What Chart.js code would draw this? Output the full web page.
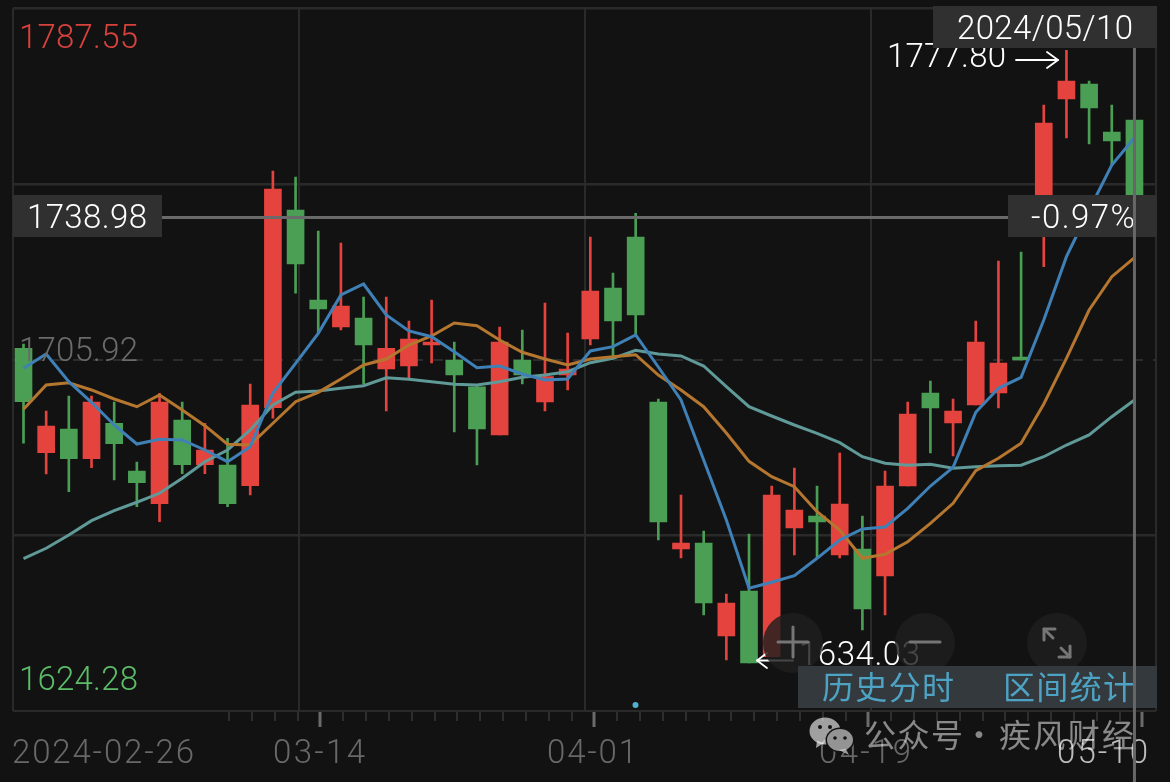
<!DOCTYPE html>
<html>
<head>
<meta charset="utf-8">
<title>K线图</title>
<script src="https://cdn.jsdelivr.net/npm/chart.js@4"></script>
<style>
html,body{margin:0;padding:0;background:#121212;overflow:hidden}
#wrap{position:relative;width:1170px;height:782px}
canvas{display:block}
</style>
</head>
<body>
<div id="wrap"><canvas id="c" width="1170" height="782"></canvas></div>
<script>
// Trading days, 2024-02-26 to 2024-05-10
const dates = ['2024-02-26','2024-02-27','2024-02-28','2024-02-29','2024-03-01','2024-03-04','2024-03-05','2024-03-06','2024-03-07','2024-03-08','2024-03-11','2024-03-12','2024-03-13','2024-03-14','2024-03-15','2024-03-18','2024-03-19','2024-03-20','2024-03-21','2024-03-22','2024-03-25','2024-03-26','2024-03-27','2024-03-28','2024-03-29','2024-04-01','2024-04-02','2024-04-03','2024-04-08','2024-04-09','2024-04-10','2024-04-11','2024-04-12','2024-04-15','2024-04-16','2024-04-17','2024-04-18','2024-04-19','2024-04-22','2024-04-23','2024-04-24','2024-04-25','2024-04-26','2024-04-29','2024-04-30','2024-05-06','2024-05-07','2024-05-08','2024-05-09','2024-05-10'];
const opens = [1708.58,1684.31,1689.82,1682.92,1691.15,1680.06,1672.46,1691.91,1681.52,1681.45,1676.64,1694.77,1740.72,1719.80,1713.53,1715.62,1703.77,1704.46,1709.34,1705.86,1699.65,1688.43,1705.86,1696.10,1702.37,1710.74,1722.59,1734.44,1696.10,1661.93,1663.33,1641.71,1652.17,1636.90,1666.81,1669.60,1660.54,1661.93,1655.66,1676.57,1698.19,1691.22,1695.40,1698.19,1706.55,1737.23,1766.52,1770.00,1758.85,1761.64];
const closes = [1696.16,1690.52,1682.92,1696.10,1686.41,1677.34,1696.10,1681.52,1684.94,1672.46,1695.40,1745.60,1728.17,1717.71,1718.41,1709.34,1708.58,1710.74,1710.04,1702.37,1689.82,1710.04,1702.37,1701.98,1703.77,1721.89,1714.92,1716.32,1668.21,1663.33,1649.38,1649.38,1635.44,1674.48,1671.00,1668.21,1672.39,1647.99,1676.57,1693.31,1694.70,1694.00,1710.04,1705.16,1705.86,1760.94,1770.70,1764.43,1756.76,1738.98];
const highs = [1709.57,1694.00,1697.49,1697.49,1696.10,1682.15,1698.12,1696.10,1691.15,1687.66,1700.28,1749.78,1748.39,1735.84,1733.05,1720.50,1720.50,1714.92,1719.80,1710.04,1700.05,1713.53,1712.83,1719.10,1712.13,1734.44,1726.08,1739.95,1696.79,1674.48,1666.12,1651.47,1665.42,1676.57,1680.76,1676.57,1684.24,1669.60,1680.06,1696.10,1700.98,1696.79,1714.92,1728.87,1730.96,1765.12,1777.80,1770.70,1765.12,1761.64];
const lows = [1686.50,1679.36,1675.25,1680.83,1677.97,1671.76,1668.28,1679.43,1679.43,1671.76,1674.48,1692.31,1721.36,1712.06,1712.83,1700.28,1694.00,1701.67,1705.16,1689.12,1681.45,1688.43,1700.28,1694.00,1698.89,1709.34,1706.62,1711.67,1664.02,1659.84,1646.59,1636.13,1635.44,1636.90,1660.54,1659.84,1659.84,1643.11,1646.59,1676.57,1684.24,1683.55,1695.40,1694.70,1705.86,1727.54,1757.45,1756.06,1751.18,1738.98];
const ma5 = [1703.93,1707.25,1700.81,1696.03,1690.75,1686.33,1687.43,1687.27,1684.94,1682.22,1685.71,1698.19,1705.09,1712.06,1720.96,1723.52,1716.32,1712.60,1711.27,1707.79,1704.07,1704.46,1702.60,1701.21,1701.44,1707.95,1708.95,1711.67,1704.23,1696.56,1682.62,1668.67,1652.80,1654.19,1655.73,1659.77,1664.02,1666.58,1667.04,1671.39,1676.57,1680.92,1693.70,1699.28,1701.84,1715.15,1729.87,1740.72,1751.18,1757.52];
const ma10 = [1694.40,1700.05,1700.58,1698.89,1696.79,1695.00,1697.72,1694.24,1690.59,1686.27,1686.10,1691.15,1696.16,1698.35,1701.44,1704.70,1706.09,1709.34,1711.44,1714.46,1713.83,1710.51,1707.65,1706.09,1704.70,1706.09,1706.62,1707.09,1702.37,1698.89,1695.00,1688.89,1682.31,1678.74,1676.41,1670.60,1666.35,1659.77,1660.70,1663.63,1667.90,1672.55,1680.13,1683.01,1686.50,1695.63,1706.25,1717.48,1725.22,1729.63];
const ma20 = [1659.68,1662.10,1665.19,1668.51,1670.83,1672.79,1674.88,1678.36,1682.22,1684.94,1689.59,1695.40,1698.35,1698.65,1699.28,1699.89,1701.74,1701.37,1700.81,1700.21,1700.05,1700.81,1701.84,1702.37,1703.14,1705.23,1706.25,1708.11,1707.25,1706.79,1704.46,1699.65,1695.00,1692.84,1690.75,1688.82,1686.64,1683.38,1681.85,1681.39,1681.62,1680.69,1681.06,1681.29,1681.39,1683.38,1686.10,1688.43,1692.68,1696.56];
const yTicks = [1787.55,1746.73,1705.92,1665.10,1624.28];
const xTickLabels = ['2024-02-26','03-14','04-01','04-19','05-10'];
const lastClose = 1738.98, changePct = '-0.97%', highLabel = '1777.80', lowLabel = '1634.03', activeDate = '2024/05/10';

const RED='#e5433d', GREEN='#4a9f55', BG='#121212', GRID='#2a2a2a';
const NUM='300 33px Roboto, sans-serif', CJK='400 32px "Noto Sans CJK SC", sans-serif';
const idx = dates.map((d,i)=>i);
const col = idx.map(i=>closes[i]>=opens[i]?RED:GREEN);
const line = (arr,color)=>({type:'line',data:arr.map((v,i)=>({x:i,y:v})),borderColor:color,borderWidth:3,pointRadius:0,tension:0,order:1,clip:false});

function fit(ctx,t,x0,x1,base,color,font){
  ctx.save();ctx.font=font;ctx.fillStyle=color;ctx.textAlign='left';ctx.textBaseline='alphabetic';
  ctx.letterSpacing='0px';
  const w=ctx.measureText(t).width;
  const extra=(x1-x0-w)/Math.max(1,t.length-1);
  ctx.letterSpacing=extra.toFixed(2)+'px';
  ctx.fillText(t,x0,base);ctx.restore();
}
function seg(ctx,pts,color,w){
  ctx.save();ctx.strokeStyle=color;ctx.lineWidth=w;ctx.lineCap='round';ctx.lineJoin='round';ctx.beginPath();
  pts.forEach((p,i)=>i?ctx.lineTo(p[0],p[1]):ctx.moveTo(p[0],p[1]));ctx.stroke();ctx.restore();
}
const overlay={id:'overlay',afterDraw(chart){
  const ctx=chart.ctx,xs=chart.scales.x,ys=chart.scales.y;
  // axis ticks
  for(let k=0;k<=40;k++){
    const px=Math.round(xs.getPixelForValue(9.07+1.0071*k));
    const major=k%12===4;
    ctx.fillStyle=major?'#6a6a6a':'#4a4a4a';
    ctx.fillRect(px-(major?1.5:0.5),712,major?3:1,major?15:9);
  }
  // scale labels
  fit(ctx,yTicks[0].toFixed(2),19,138,48,'#d8423d',NUM);
  fit(ctx,yTicks[2].toFixed(2),19,138,361,'#6a6a6a',NUM);
  fit(ctx,yTicks[4].toFixed(2),19,138,690,'#5cbc68',NUM);
  const G='#686868';
  const tl=[[12,194,G],[273,365,G],[547,637,G],[819,911,G],[1057,1148,'#bcbcbc']];
  xTickLabels.forEach((t,i)=>fit(ctx,t,tl[i][0],tl[i][1],763,tl[i][2],NUM));
  // high / low markers
  fit(ctx,highLabel,887,1006,67,'#ffffff',NUM);
  seg(ctx,[[1016,60],[1058,60]],'#ffffff',1.8);
  seg(ctx,[[1047,52],[1058,60],[1047,68]],'#ffffff',1.8);
  fit(ctx,lowLabel,799,920,665,'#ffffff',NUM);
  seg(ctx,[[767,653],[757,660.5],[767,668]],'#ffffff',1.8);
  seg(ctx,[[757,660.5],[793,660.5]],'#ffffff',1.8);
  // zoom buttons
  [793,925,1057].forEach(cx=>{ctx.fillStyle='rgba(30,30,30,0.82)';ctx.beginPath();ctx.arc(cx,643,30,0,Math.PI*2);ctx.fill();});
  seg(ctx,[[778,642],[808,642]],'#767676',3);
  seg(ctx,[[793,627],[793,657]],'#767676',3);
  seg(ctx,[[910,642],[940,642]],'#767676',3);
  seg(ctx,[[1044,629],[1053,638]],'#767676',3);
  seg(ctx,[[1044,640],[1044,629],[1055,629]],'#767676',3);
  seg(ctx,[[1061,648],[1070,657]],'#767676',3);
  seg(ctx,[[1059,657],[1070,657],[1070,646]],'#767676',3);
  // point marker
  ctx.fillStyle='#4fb0d0';ctx.beginPath();ctx.arc(635.5,705,3,0,Math.PI*2);ctx.fill();
  // bottom panel
  ctx.fillStyle='#33393c';ctx.fillRect(798,666,359,42);
  fit(ctx,'历史分时',822,954,699,'#4ea3c4',CJK);
  fit(ctx,'区间统计',1003,1135,699,'#4ea3c4',CJK);
  // crosshair
  const yy=ys.getPixelForValue(lastClose),xx=xs.getPixelForValue(49);
  ctx.fillStyle='#6a6a6a';ctx.fillRect(162,yy-1.5,846,3);
  ctx.fillStyle='#303030';
  ctx.fillRect(13,195,149,42);ctx.fillRect(1008,195,149,42);ctx.fillRect(933,6,224,42);
  fit(ctx,lastClose.toFixed(2),27,147,228,'#ffffff',NUM);
  fit(ctx,changePct,1031,1135,228,'#ffffff',NUM);
  fit(ctx,activeDate,957,1133,39,'#ffffff',NUM);
  ctx.fillStyle='#676767';ctx.fillRect(xx-1.5,48,3,734);
  // watermark
  ctx.save();
  ctx.fillStyle='rgba(255,255,255,0.6)';
  ctx.beginPath();ctx.ellipse(825,731,15.5,13.5,0,0,Math.PI*2);ctx.fill();
  ctx.beginPath();ctx.moveTo(817,741);ctx.lineTo(816,748);ctx.lineTo(824,743);ctx.fill();
  ctx.fillStyle=BG;
  ctx.beginPath();ctx.arc(820,727,2,0,Math.PI*2);ctx.arc(830,727,2,0,Math.PI*2);ctx.fill();
  ctx.beginPath();ctx.ellipse(840,740,14.5,12.5,0,0,Math.PI*2);ctx.fill();
  ctx.fillStyle='rgba(255,255,255,0.55)';
  ctx.beginPath();ctx.ellipse(840,740,13,11,0,0,Math.PI*2);ctx.fill();
  ctx.beginPath();ctx.moveTo(846,749);ctx.lineTo(849,755);ctx.lineTo(839,750);ctx.fill();
  ctx.fillStyle=BG;
  ctx.beginPath();ctx.arc(835,738,1.8,0,Math.PI*2);ctx.arc(845,738,1.8,0,Math.PI*2);ctx.fill();
  ctx.restore();
  const WM='rgba(255,255,255,0.5)';
  fit(ctx,'公众号',864,963,747,WM,CJK);
  fit(ctx,'·',963,977,747,WM,CJK);
  fit(ctx,'疾风财经',999,1134,747,WM,CJK);
}};

new Chart(document.getElementById('c'),{
  data:{datasets:[
    line(ma5,'#3f80b6'),
    line(ma10,'#b5762f'),
    line(ma20,'#5f9a98'),
    {type:'bar',label:'body',data:idx.map(i=>({x:i,y:[opens[i],closes[i]]})),backgroundColor:col,barThickness:17,grouped:false,order:2},
    {type:'bar',label:'wick',data:idx.map(i=>({x:i,y:[lows[i],highs[i]]})),backgroundColor:col,barThickness:2,grouped:false,order:3}
  ]},
  plugins:[overlay],
  options:{
    responsive:false,animation:false,devicePixelRatio:1,
    layout:{padding:{left:13,top:8.5,right:14,bottom:71}},
    plugins:{legend:{display:false},tooltip:{enabled:false}},
    scales:{
      x:{type:'linear',offset:false,min:-0.463,max:49.95,
        afterBuildTicks(s){s.ticks=[-0.463,12.15,24.77,37.38,49.95].map(v=>({value:v}));},
        ticks:{display:false},
        grid:{offset:false,color:GRID,lineWidth:2,drawTicks:false},border:{display:false}},
      y:{type:'linear',min:yTicks[4],max:yTicks[0],
        afterBuildTicks(s){s.ticks=yTicks.map(v=>({value:v}));},
        ticks:{display:false},
        grid:{color:c=>c.index===2?'#2c2c2c':GRID,lineWidth:c=>c.index===2?2:(c.index===4?2:2.6),drawTicks:false},
        border:{display:false,dash:c=>c.index===2?[10,10]:[]}}
    }
  }
});
</script>
</body>
</html>
